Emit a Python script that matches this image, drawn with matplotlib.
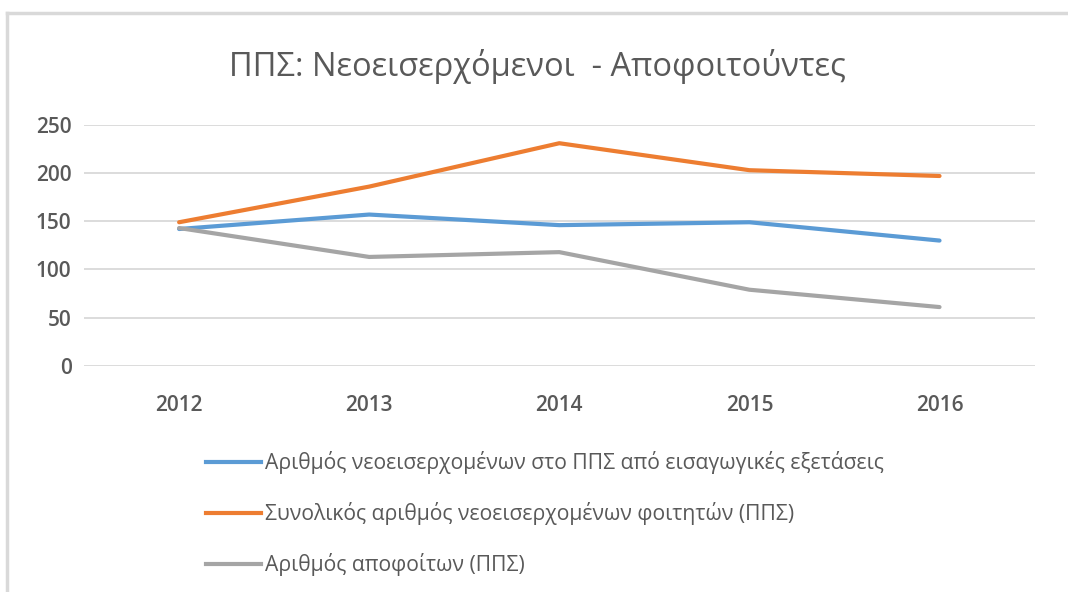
import numpy as np
import matplotlib.pyplot as plt
from matplotlib.lines import Line2D

years = ["2012", "2013", "2014", "2015", "2016"]
entrants_exams = [142, 157, 146, 149, 130]
entrants_total = [149, 186, 231, 203, 197]
graduates = [143, 113, 118, 79, 61]

labels = [
    "Αριθμός νεοεισερχομένων στο ΠΠΣ από εισαγωγικές εξετάσεις",
    "Συνολικός αριθμός νεοεισερχομένων φοιτητών (ΠΠΣ)",
    "Αριθμός αποφοίτων (ΠΠΣ)",
]
colors = ["#5B9BD5", "#ED7D31", "#A5A5A5"]
text_color = "#595959"

plt.rcParams["font.family"] = ["Open Sans", "DejaVu Sans"]

fig = plt.figure(figsize=(10.68, 5.92), dpi=100)
ax = fig.add_axes([0.0787, 0.382, 0.890, 0.407])

x = np.arange(len(years))
for series, color, label in zip([entrants_exams, entrants_total, graduates], colors, labels):
    ax.plot(x, series, color=color, lw=3, solid_capstyle="round", label=label)

ax.set_xlim(-0.5, len(years) - 0.5)
ax.set_ylim(0, 250)
ax.set_yticks(range(0, 251, 50))
ax.set_xticks(x, years)
ax.grid(axis="y", color="#D9D9D9", lw=1.3)
ax.set_axisbelow(True)
for s in ax.spines.values():
    s.set_visible(False)
ax.tick_params(length=0, labelsize=15, labelcolor=text_color)
ax.tick_params(axis="x", pad=21)
ax.tick_params(axis="y", pad=9)
for t in ax.get_xticklabels() + ax.get_yticklabels():
    t.set_fontweight("semibold")

fig.text(0.503, 0.887, "ΠΠΣ: Νεοεισερχόμενοι  - Αποφοιτούντες", ha="center", va="center",
         fontsize=23.5, color=text_color)

handles = [Line2D([], [], color=c, lw=3) for c in colors]
fig.legend(handles, labels, loc="upper left", bbox_to_anchor=(0.185, 0.252), frameon=False,
           fontsize=15.2, labelcolor=text_color, handlelength=2.6, handletextpad=0.2,
           labelspacing=1.33, borderaxespad=0)

# outer chart border (left and top visible in the reference)
fig.add_artist(Line2D([0.007, 0.007], [0, 0.978], color="#D9D9D9", lw=2.5, transform=fig.transFigure))
fig.add_artist(Line2D([0.007, 1], [0.978, 0.978], color="#D9D9D9", lw=2.5, transform=fig.transFigure))

fig.savefig("out.png", dpi=100, facecolor="white")
